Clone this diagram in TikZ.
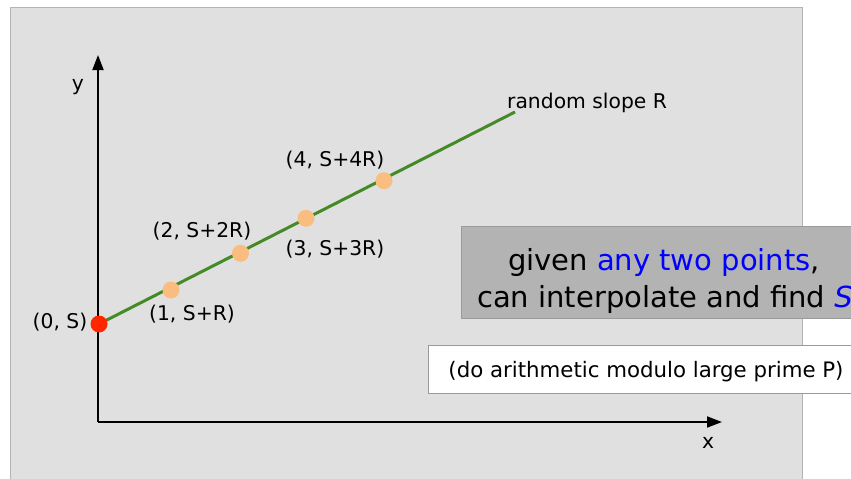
\documentclass[tikz,border=0pt]{standalone}
\usepackage{fontspec}
\setmainfont{DejaVu Sans}
\usetikzlibrary{arrows.meta}
\definecolor{bggray}{HTML}{E0E0E0}
\definecolor{bgedge}{HTML}{B4B4B4}
\definecolor{boxgray}{HTML}{B3B3B3}
\definecolor{boxedge}{HTML}{9A9A9A}
\definecolor{linegreen}{HTML}{468A28}
\definecolor{dotorange}{HTML}{F9BE7F}
\definecolor{dotred}{HTML}{FF2600}
\definecolor{txtblue}{HTML}{0000FF}
\tikzset{
  axis/.style={line width=1.8pt, -{Triangle[length=15pt,width=11pt]}},
  lbl/.style={inner sep=0pt, anchor=base, font=\fontsize{20.3}{24}\selectfont},
  dotpt/.style={circle, fill=dotorange, minimum size=17pt, inner sep=0pt},
  bigtxt/.style={inner sep=0pt, anchor=base, font=\fontsize{29}{37}\selectfont},
}
\begin{document}
\begin{tikzpicture}[x=1pt,y=-1pt]
\useasboundingbox (0,0) rectangle (851,479);
\begin{scope}
\clip (0,0) rectangle (851,479);
\fill[bggray] (10,7) rectangle (802,490);
\draw[bgedge, line width=0.8pt] (10,490) -- (10,7) -- (802,7) -- (802,490);
% axes
\coordinate (org) at (98,422);
\coordinate (ytip) at (98,55);
\coordinate (xtip) at (722,422);
\draw[axis] (org) -- (ytip);
\draw[axis] (org) -- (xtip);
\node[lbl] (ylab) at (78,90) {y};
\node[lbl] (xlab) at (708,448) {x};
% line
\coordinate (lineend) at (515,112);
\node[circle, inner sep=0pt, minimum size=17pt] (p0) at (99,324) {};
\draw[linegreen, line width=3pt] (p0.center) -- (lineend);
\node[circle, fill=dotred, minimum size=17pt, inner sep=0pt] (p0dot) at (99,324) {};
\node[dotpt] (p1) at (171,290) {};
\node[dotpt] (p2) at (240.5,253.3) {};
\node[dotpt] (p3) at (306,218.3) {};
\node[dotpt] (p4) at (384,180.7) {};
\node[lbl] (l0) at (60,328) {(0, S)};
\node[lbl] (l1) at (192,320) {(1, S+R)};
\node[lbl] (l2) at (202,237) {(2, S+2R)};
\node[lbl] (l3) at (335,255) {(3, S+3R)};
\node[lbl] (l4) at (335,166) {(4, S+4R)};
\node[lbl, anchor=base west] (slope) at (507,108) {random slope R};
% gray box
\node[draw=boxedge, fill=boxgray, line width=0.8pt, minimum width=409pt, minimum height=92pt, inner sep=0pt] (gbox) at (665.5,272) {};
\node[bigtxt] (g1) at (664,270) {given \textcolor{txtblue}{any two points},};
\node[bigtxt] (g2) at (665,307) {can interpolate and find \textcolor{txtblue}{\itshape S}};
% white box
\node[draw=boxedge, fill=white, line width=0.8pt, minimum width=442pt, minimum height=48pt, inner sep=0pt] (wbox) at (649,369) {};
\node[inner sep=0pt, anchor=base, font=\fontsize{21.3}{24}\selectfont] (mod) at (646,377) {(do arithmetic modulo large prime P)};
\end{scope}
\end{tikzpicture}
\end{document}
